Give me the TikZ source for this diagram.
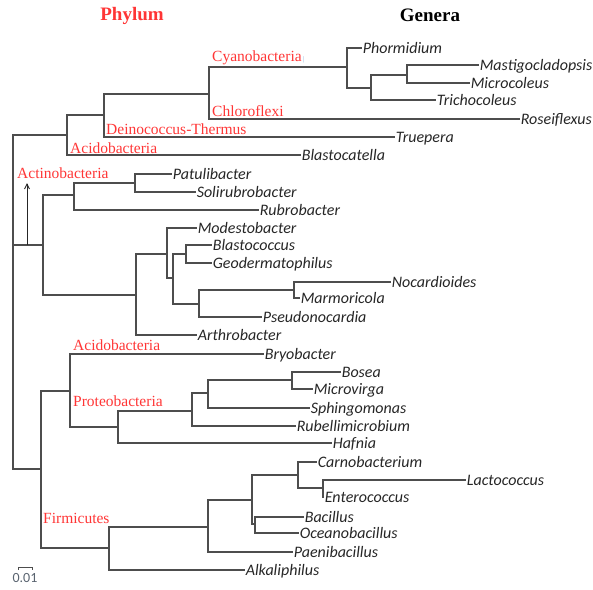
\documentclass[tikz,border=0pt]{standalone}
\usepackage{fontspec}
\setmainfont{Liberation Serif}
\newfontfamily\genusfont{Carlito}
\usetikzlibrary{arrows.meta,calc}
\definecolor{Ink}{HTML}{262626}
\definecolor{Branch}{HTML}{4D4D4D}
\definecolor{PhylumRed}{HTML}{FF3535}
\definecolor{Cursor}{HTML}{7FA8D8}
\definecolor{BarText}{HTML}{5A6470}
\begin{document}
\begin{tikzpicture}[x=1pt,y=-1pt,>={Straight Barb[length=5pt,width=5pt]}]
\tikzset{branch/.style={draw=Branch,line width=1.1pt},
  genus/.style={anchor=west,inner sep=0.6pt,text height=10pt,text depth=0pt,text=Ink,font=\genusfont\itshape\fontsize{16}{18}\selectfont},
  phylum/.style={anchor=base west,inner sep=0pt,text=PhylumRed,font=\fontsize{15.5}{17}\selectfont},
  heading/.style={anchor=base,inner sep=0pt,font=\bfseries\fontsize{19}{21}\selectfont}}
\useasboundingbox (0,0) rectangle (593,589);
% headings
\node[heading,text=PhylumRed] (hphylum) at (132,20) {Phylum};
\node[heading,text=black] (hgenera) at (430,21) {Genera};
% internal nodes of the tree
\coordinate (root) at (13,300);
\coordinate (nA) at (67,135);  \coordinate (nB) at (104,115); \coordinate (nC) at (209,94);
\coordinate (nD) at (347,67);  \coordinate (nE) at (371,88);  \coordinate (nF) at (407,75);
\coordinate (nAct) at (43,245); \coordinate (nG) at (74,195); \coordinate (nI) at (135,183);
\coordinate (nH) at (136,295); \coordinate (nJ) at (167,254); \coordinate (nK) at (173,278);
\coordinate (nM) at (186,254); \coordinate (nN) at (199,304); \coordinate (nP) at (294,290);
\coordinate (nL) at (41,469);  \coordinate (nQ) at (70,391);  \coordinate (nS) at (118,427);
\coordinate (nT) at (192,411); \coordinate (nU) at (208,393); \coordinate (nV) at (292,380);
\coordinate (nR) at (109,548); \coordinate (nW) at (208,527); \coordinate (nX) at (252,500);
\coordinate (nY) at (298,475); \coordinate (nAA) at (323,488); \coordinate (nZ) at (255,524);
% genera
\node[genus] (phormidium) at (362,48) {Phormidium};
\node[genus] (mastigo) at (479,65) {Mastigocladopsis};
\node[genus] (microcoleus) at (470,83) {Microcoleus};
\node[genus] (trichocoleus) at (436,100) {Trichocoleus};
\node[genus] (roseiflexus) at (520,119) {Roseiflexus};
\node[genus] (truepera) at (395,137) {Truepera};
\node[genus] (blastocatella) at (301,155) {Blastocatella};
\node[genus] (patulibacter) at (172,174) {Patulibacter};
\node[genus] (solirubro) at (196,192) {Solirubrobacter};
\node[genus] (rubrobacter) at (259,210) {Rubrobacter};
\node[genus] (modesto) at (197,228) {Modestobacter};
\node[genus] (blastococcus) at (212,245) {Blastococcus};
\node[genus] (geoderm) at (212,263) {Geodermatophilus};
\node[genus] (nocardioides) at (391,282) {Nocardioides};
\node[genus] (marmoricola) at (300,298) {Marmoricola};
\node[genus] (pseudonoc) at (262,317) {Pseudonocardia};
\node[genus] (arthrobacter) at (197,335) {Arthrobacter};
\node[genus] (bryobacter) at (264,354) {Bryobacter};
\node[genus] (bosea) at (341,372) {Bosea};
\node[genus] (microvirga) at (313,389) {Microvirga};
\node[genus] (sphingo) at (310,408) {Sphingomonas};
\node[genus] (rubelli) at (296,426) {Rubellimicrobium};
\node[genus] (hafnia) at (332,443) {Hafnia};
\node[genus] (carno) at (317,462) {Carnobacterium};
\node[genus] (lacto) at (466,480) {Lactococcus};
\node[genus] (entero) at (324,497) {Enterococcus};
\node[genus] (bacillus) at (304,517) {Bacillus};
\node[genus] (oceano) at (299,533) {Oceanobacillus};
\node[genus] (paeni) at (293,552) {Paenibacillus};
\node[genus] (alkali) at (245,570) {Alkaliphilus};
% branches
\draw[branch] (root) |- (nA);  \draw[branch] (root) |- (nAct); \draw[branch] (root) |- (nL);
\draw[branch] (nA) |- (nB);    \draw[branch] (nA) |- (blastocatella.west);
\draw[branch] (nB) |- (nC);    \draw[branch] (nB) |- (truepera.west);
\draw[branch] (nC) |- (nD);    \draw[branch] (nC) |- (roseiflexus.west);
\draw[branch] (nD) |- (phormidium.west); \draw[branch] (nD) |- (nE);
\draw[branch] (nE) |- (nF);    \draw[branch] (nE) |- (trichocoleus.west);
\draw[branch] (nF) |- (mastigo.west); \draw[branch] (nF) |- (microcoleus.west);
\draw[branch] (nAct) |- (nG);  \draw[branch] (nAct) |- (nH);
\draw[branch] (nG) |- (nI);    \draw[branch] (nG) |- (rubrobacter.west);
\draw[branch] (nI) |- (patulibacter.west); \draw[branch] (nI) |- (solirubro.west);
\draw[branch] (nH) |- (nJ);    \draw[branch] (nH) |- (arthrobacter.west);
\draw[branch] (nJ) |- (modesto.west); \draw[branch] (nJ) |- (nK);
\draw[branch] (nK) |- (nM);    \draw[branch] (nK) |- (nN);
\draw[branch] (nM) |- (blastococcus.west); \draw[branch] (nM) |- (geoderm.west);
\draw[branch] (nN) |- (nP);    \draw[branch] (nN) |- (pseudonoc.west);
\draw[branch] (nP) |- (nocardioides.west); \draw[branch] (nP) |- (marmoricola.west);
\draw[branch] (nL) |- (nQ);    \draw[branch] (nL) |- (nR);
\draw[branch] (nQ) |- (bryobacter.west); \draw[branch] (nQ) |- (nS);
\draw[branch] (nS) |- (nT);    \draw[branch] (nS) |- (hafnia.west);
\draw[branch] (nT) |- (nU);    \draw[branch] (nT) |- (rubelli.west);
\draw[branch] (nU) |- (nV);    \draw[branch] (nU) |- (sphingo.west);
\draw[branch] (nV) |- (bosea.west); \draw[branch] (nV) |- (microvirga.west);
\draw[branch] (nR) |- (nW);    \draw[branch] (nR) |- (alkali.west);
\draw[branch] (nW) |- (nX);    \draw[branch] (nW) |- (paeni.west);
\draw[branch] (nX) |- (nY);    \draw[branch] (nX) |- (nZ);
\draw[branch] (nY) |- (carno.west); \draw[branch] (nY) |- (nAA);
\draw[branch] (nAA) |- (lacto.west); \draw[branch] (nAA) |- (entero.west);
\draw[branch] (nZ) |- (bacillus.west); \draw[branch] (nZ) |- (oceano.west);
% phyla
\node[phylum] (cyano) at (212,61) {Cyanobacteria{\color{Cursor}\fontsize{7}{7}\selectfont\,|}};
\node[phylum] (chloro) at (212,116) {Chloroflexi};
\node[phylum] (deino) at (106,134) {Deinococcus-Thermus};
\node[phylum] (acido1) at (70,153) {Acidobacteria};
\node[phylum] (actino) at (17,178) {Actinobacteria};
\node[phylum] (acido2) at (73,350) {Acidobacteria};
\node[phylum] (proteo) at (73,406) {Proteobacteria};
\node[phylum] (firmi) at (43,523) {Firmicutes};
% arrow to Actinobacteria
\coordinate (actfoot) at (27,245);
\coordinate (acttip) at (27,183);
\draw[branch,draw=Ink,line width=0.9pt,->] (actfoot) -- (acttip);
% scale bar
\coordinate (bar1) at (18,567); \coordinate (bar2) at (32,567);
\draw[branch,line width=0.9pt] ($(bar1)+(0,3)$) -- (bar1) -- (bar2) -- ($(bar2)+(0,3)$);
\node[inner sep=0pt,text=BarText,font=\genusfont\fontsize{14}{15}\selectfont] (barlabel) at (25,578) {0.01};
\end{tikzpicture}
\end{document}
